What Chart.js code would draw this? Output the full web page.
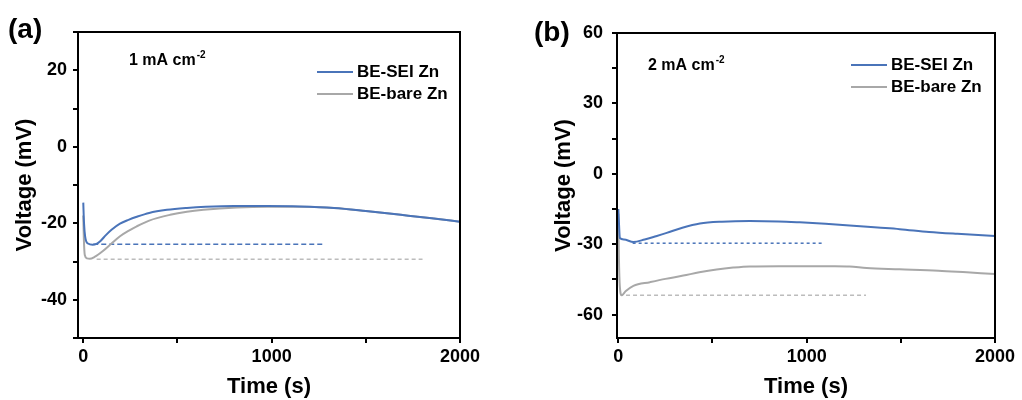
<!DOCTYPE html>
<html>
<head>
<meta charset="utf-8">
<script src="https://cdn.jsdelivr.net/npm/chart.js@4.4.1/dist/chart.umd.min.js"></script>
<style>
  body { margin: 0; background: #fff; }
  .panel { position: absolute; top: 0; width: 511px; height: 400px; }
</style>
</head>
<body>
<div class="panel" style="left:0"><canvas id="chartA" width="511" height="400"></canvas></div>
<div class="panel" style="left:511px"><canvas id="chartB" width="511" height="400"></canvas></div>
<script>
// (a) 1 mA cm-2
var seiTimeA = [0, 4, 10, 25, 50, 70, 90, 120, 150, 195, 240, 284, 350, 444, 550, 650, 800, 976, 1150, 1331, 1500, 1686, 1850, 2000];
var seiVoltA = [-14.6, -20, -23.5, -25.3, -25.6, -25.4, -24.7, -23.1, -21.7, -20.1, -19.1, -18.3, -17.3, -16.5, -16.0, -15.7, -15.5, -15.5, -15.6, -16.0, -16.8, -17.8, -18.7, -19.6];
var bareTimeA = [0, 3, 8, 20, 35, 60, 106, 150, 195, 240, 284, 350, 461, 550, 638, 816, 976, 1150, 1331, 1500, 1686, 1850, 2000];
var bareVoltA = [-18, -24, -28.3, -29.2, -29.3, -28.8, -27.2, -25.3, -23.4, -22, -20.8, -19.3, -17.8, -17.0, -16.5, -15.9, -15.7, -15.7, -16.0, -16.8, -17.8, -18.7, -19.6];
var seiRefA = { from: 53, to: 1278, v: -25.5 };
var bareRefA = { from: 71, to: 1801, v: -29.4 };

// (b) 2 mA cm-2
var seiTimeB = [0, 4, 8, 30, 80, 140, 200, 257, 340, 433, 550, 698, 850, 963, 1100, 1228, 1377, 1494, 1650, 1800, 2000];
var seiVoltB = [-15, -22, -27.4, -28.0, -29.1, -28.0, -26.6, -25.2, -23.0, -21.2, -20.4, -20.1, -20.3, -20.7, -21.3, -22.0, -22.9, -23.6, -24.8, -25.6, -26.5];
var bareTimeB = [0, 3, 8, 18, 40, 80, 168, 250, 345, 430, 522, 610, 698, 850, 1000, 1150, 1228, 1318, 1494, 1700, 1850, 2000];
var bareVoltB = [-17, -35, -48, -51.8, -50, -47.8, -46.2, -44.8, -43.4, -42, -40.8, -40, -39.5, -39.4, -39.4, -39.4, -39.5, -40.2, -40.7, -41.3, -42, -42.7];
var seiRefB = { from: 76, to: 1085, v: -29.6 };
var bareRefB = { from: 41, to: 1315, v: -51.8 };

var xTicks = [0, 500, 1000, 1500, 2000];
var xLabels = [0, 1000, 2000];
var yTicksA = [-50, -40, -30, -20, -10, 0, 10, 20, 30];
var yLabelsA = [-40, -20, 0, 20];
var yTicksB = [-60, -45, -30, -15, 0, 15, 30, 45, 60];
var yLabelsB = [-60, -30, 0, 30, 60];

var blue = '#4a74b9';
var grey = '#a8a8a8';
var greyDash = '#bcbcbc';
var fontFamily = '"Liberation Sans", Arial, sans-serif';

function toPoints(times, volts) {
    return times.map(function (t, i) { return { x: t, y: volts[i] }; });
}

// Rahmen, Beschriftung, Legende
var decoPlugin = {
    id: 'deco',
    afterDraw: function (chart, args, opts) {
        var ctx = chart.ctx;
        var area = chart.chartArea;
        ctx.save();
        ctx.strokeStyle = '#000';
        ctx.lineWidth = 2;
        ctx.strokeRect(area.left, area.top, area.right - area.left, area.bottom - area.top);

        ctx.fillStyle = '#000';
        ctx.textBaseline = 'middle';
        ctx.textAlign = 'left';
        ctx.font = 'bold 28px ' + fontFamily;
        ctx.fillText(opts.panel, opts.panelX, opts.panelY);

        // Stromdichte mit Exponent
        ctx.font = 'bold 16px ' + fontFamily;
        ctx.fillText(opts.current, opts.noteX, opts.noteY);
        var w = ctx.measureText(opts.current).width;
        ctx.font = 'bold 10px ' + fontFamily;
        ctx.fillText('-2', opts.noteX + w + 1, opts.noteY - 6);

        // Legende
        ctx.font = 'bold 17px ' + fontFamily;
        for (var i = 0; i < 2; i++) {
            var ds = chart.data.datasets[i];
            var y = opts.legY + i * 22;
            ctx.strokeStyle = ds.borderColor;
            ctx.lineWidth = 2;
            ctx.beginPath();
            ctx.moveTo(opts.legX, y);
            ctx.lineTo(opts.legX + 36, y);
            ctx.stroke();
            ctx.fillText(ds.label, opts.legX + 40, y);
        }
        ctx.restore();
    }
};

function makeChart(id, d) {
    var ctx = document.getElementById(id).getContext('2d');
    return new Chart(ctx, {
        type: 'line',
        data: {
            datasets: [
                { label: 'BE-SEI Zn', data: toPoints(d.seiT, d.seiV), borderColor: blue, borderWidth: 2, pointRadius: 0, tension: 0.4, cubicInterpolationMode: 'monotone', order: 1 },
                { label: 'BE-bare Zn', data: toPoints(d.bareT, d.bareV), borderColor: grey, borderWidth: 2, pointRadius: 0, tension: 0.4, cubicInterpolationMode: 'monotone', order: 2 },
                { label: 'sei ref', data: [{ x: d.seiRef.from, y: d.seiRef.v }, { x: d.seiRef.to, y: d.seiRef.v }], borderColor: blue, borderWidth: 1.5, borderDash: d.seiDash, pointRadius: 0, order: 3 },
                { label: 'bare ref', data: [{ x: d.bareRef.from, y: d.bareRef.v }, { x: d.bareRef.to, y: d.bareRef.v }], borderColor: greyDash, borderWidth: 1.5, borderDash: [4, 3], pointRadius: 0, order: 4 }
            ]
        },
        options: {
            responsive: false,
            animation: false,
            layout: { padding: { left: d.padLeft, top: d.padTop, right: d.padRight, bottom: 0 } },
            plugins: {
                legend: { display: false },
                tooltip: { enabled: false },
                deco: d.deco
            },
            scales: {
                x: {
                    type: 'linear',
                    min: d.xMin,
                    max: 2000,
                    afterBuildTicks: function (axis) {
                        axis.ticks = xTicks.map(function (v) { return { value: v }; });
                    },
                    afterFit: function (axis) { axis.height = 62; },
                    ticks: {
                        color: '#000',
                        padding: 3,
                        maxRotation: 0,
                        font: { family: fontFamily, size: 18, weight: 'bold' },
                        callback: function (v) { return xLabels.indexOf(v) >= 0 ? String(v) : ''; }
                    },
                    grid: { drawOnChartArea: false, drawTicks: true, tickLength: 5, color: '#000', lineWidth: 2 },
                    border: { display: true, color: '#000', width: 2 },
                    title: { display: true, text: 'Time (s)', color: '#000', padding: { top: 6, bottom: 0 }, font: { family: fontFamily, size: 22, weight: 'bold' } }
                },
                y: {
                    type: 'linear',
                    min: d.yMin,
                    max: d.yMax,
                    afterBuildTicks: function (axis) {
                        axis.ticks = d.yTicks.map(function (v) { return { value: v }; });
                    },
                    afterFit: function (axis) { axis.width = 78; },
                    ticks: {
                        color: '#000',
                        padding: d.yPad,
                        font: { family: fontFamily, size: 18, weight: 'bold' },
                        callback: function (v) { return d.yLabels.indexOf(v) >= 0 ? String(v) : ''; }
                    },
                    grid: { drawOnChartArea: false, drawTicks: true, tickLength: 5, color: '#000', lineWidth: 2 },
                    border: { display: true, color: '#000', width: 2 },
                    title: { display: true, text: 'Voltage (mV)', color: '#000', padding: { top: 12, bottom: 0 }, font: { family: fontFamily, size: 22, weight: 'bold' } }
                }
            }
        },
        plugins: [decoPlugin]
    });
}

makeChart('chartA', {
    seiT: seiTimeA, seiV: seiVoltA, bareT: bareTimeA, bareV: bareVoltA,
    seiRef: seiRefA, bareRef: bareRefA, seiDash: [5, 3],
    xMin: -28, yMin: -50, yMax: 30, yTicks: yTicksA, yLabels: yLabelsA, yPad: 6,
    padLeft: 0, padTop: 32, padRight: 51,
    deco: { panel: '(a)', panelX: 8, panelY: 30, current: '1 mA cm', noteX: 129, noteY: 61, legX: 317, legY: 72 }
});

makeChart('chartB', {
    seiT: seiTimeB, seiV: seiVoltB, bareT: bareTimeB, bareV: bareVoltB,
    seiRef: seiRefB, bareRef: bareRefB, seiDash: [3, 3],
    xMin: -7, yMin: -70, yMax: 60, yTicks: yTicksB, yLabels: yLabelsB, yPad: 9,
    padLeft: 28, padTop: 33, padRight: 27,
    deco: { panel: '(b)', panelX: 23, panelY: 33, current: '2 mA cm', noteX: 137, noteY: 66, legX: 340, legY: 65 }
});
</script>
</body>
</html>
